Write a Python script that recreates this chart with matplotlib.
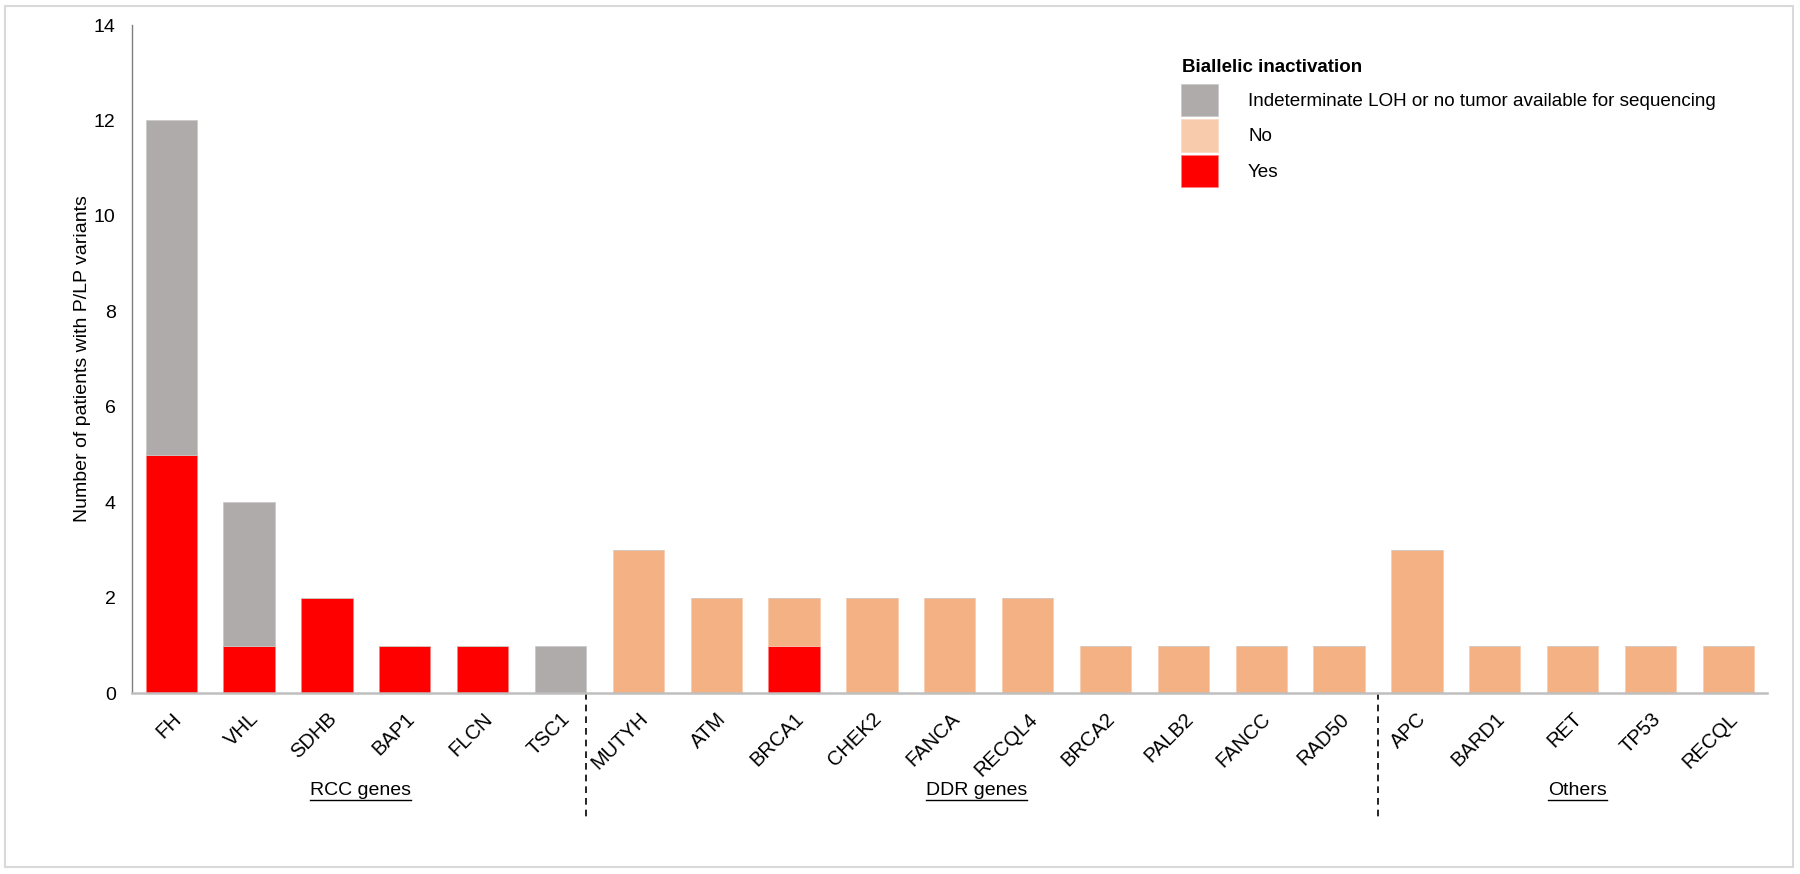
import matplotlib
matplotlib.use("Agg")
import matplotlib.pyplot as plt
from matplotlib.patches import Patch, Rectangle
from matplotlib.lines import Line2D
import numpy as np

plt.rcParams['font.family'] = ['Liberation Sans', 'DejaVu Sans']

genes = ["FH", "VHL", "SDHB", "BAP1", "FLCN", "TSC1",
         "MUTYH", "ATM", "BRCA1", "CHEK2", "FANCA", "RECQL4", "BRCA2", "PALB2", "FANCC", "RAD50",
         "APC", "BARD1", "RET", "TP53", "RECQL"]
yes_vals = [5, 1, 2, 1, 1, 0, 0, 0, 1, 0, 0, 0, 0, 0, 0, 0, 0, 0, 0, 0, 0]
no_vals = [0, 0, 0, 0, 0, 0, 3, 2, 1, 2, 2, 2, 1, 1, 1, 1, 3, 1, 1, 1, 1]
indet_vals = [7, 3, 0, 0, 0, 1, 0, 0, 0, 0, 0, 0, 0, 0, 0, 0, 0, 0, 0, 0, 0]
groups = ["RCC genes", "DDR genes", "Others"]
group_sizes = [6, 10, 5]
y_ticks = [0, 2, 4, 6, 8, 10, 12, 14]

c_yes = "#FF0000"
c_no = "#F4B183"
c_no_leg = "#F8CBAD"
c_indet = "#AFABAB"

W, H = 1800, 874
fig = plt.figure(figsize=(W / 100, H / 100), dpi=100)
ax = fig.add_axes([132.3 / W, 1 - 693.3 / H, (1767.3 - 132.3) / W, (693.3 - 25) / H])

x = np.arange(len(genes))
yes = np.array(yes_vals)
no = np.array(no_vals)
ind = np.array(indet_vals)
bw = 0.66
ax.bar(x, yes, bw, color=c_yes, edgecolor="#FF8080", linewidth=0.5)
ax.bar(x, no, bw, bottom=yes, color=c_no, edgecolor="#F8CBAD", linewidth=0.5)
ax.bar(x, ind, bw, bottom=yes + no, color=c_indet, edgecolor="#C9C6C6", linewidth=0.5)

ax.set_xlim(-0.5, len(genes) - 0.5)
ax.set_ylim(0, 14)
ax.set_yticks(y_ticks)
ax.tick_params(axis='y', length=0, pad=12, labelsize=14, colors="#000000")
ax.set_xticks(x)
ax.tick_params(axis='x', length=0, pad=11.5)
ax.set_xticklabels(genes, fontsize=14.5)
for lab in ax.get_xticklabels():
    lab.set_rotation(45)
    lab.set_rotation_mode('anchor')
    lab.set_horizontalalignment('right')
    lab.set_verticalalignment('top')
for s in ["top", "right"]:
    ax.spines[s].set_visible(False)
ax.spines["left"].set_color("#7F7F7F")
ax.spines["left"].set_linewidth(1.0)
ax.spines["bottom"].set_color("#BFBFBF")
ax.spines["bottom"].set_linewidth(1.8)

fig.text(83 / W, 1 - 359 / H, "Number of patients with P/LP variants", rotation=90,
         ha='center', va='center', fontsize=14)

# group separators
bounds = np.cumsum(group_sizes)[:-1]
sep_x = [bounds[0] - 1 + bw / 2, bounds[1] - 0.5]
for sx in sep_x:
    ax.plot([sx, sx], [0, -0.19], transform=ax.get_xaxis_transform(), clip_on=False,
            color="black", lw=1.2, dashes=(4, 3))

# group labels (underlined)
group_pos = [2.43, 10.34, 18.06]
fig.canvas.draw()
renderer = fig.canvas.get_renderer()
for g, gx in zip(groups, group_pos):
    t = ax.text(gx, -0.145, g, transform=ax.get_xaxis_transform(), ha='center', va='center',
                fontsize=14)
    bb = t.get_window_extent(renderer=renderer)
    yline = 1 - 800 / H
    fig.add_artist(Line2D([bb.x0 / W, bb.x1 / W], [yline, yline], transform=fig.transFigure,
                          color="black", lw=1.0))

# legend
fig.text(1182 / W, 1 - 67.5 / H, "Biallelic inactivation", ha='left', va='center',
         fontsize=13.5, fontweight='bold')
handles = [Patch(facecolor=c_indet, edgecolor="#C9C6C6", linewidth=0.5),
           Patch(facecolor=c_no_leg, edgecolor="#FAD9C4", linewidth=0.5),
           Patch(facecolor=c_yes, edgecolor="#FF8080", linewidth=0.5)]
labels = ["Indeterminate LOH or no tumor available for sequencing", "No", "Yes"]
leg = fig.legend(handles, labels, loc='upper left', bbox_to_anchor=(1181 / W, 1 - 84 / H),
                 frameon=False, fontsize=13.6,
                 handlelength=1.95, handleheight=2.25, labelspacing=0.16, handletextpad=1.6,
                 borderpad=0, borderaxespad=0)

fig.add_artist(Rectangle((5 / W, 7 / H), (1793 - 5) / W, (867 - 6) / H, transform=fig.transFigure,
                         fill=False, edgecolor="#D9D9D9", lw=1.5))

fig.savefig("out.png", dpi=100)
